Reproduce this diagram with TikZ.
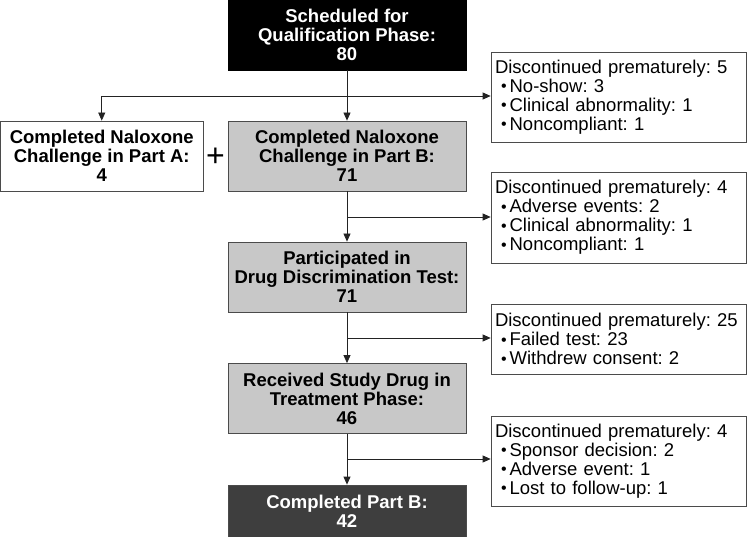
\documentclass[tikz,border=0pt]{standalone}
\usepackage{fontspec}
\setmainfont{Liberation Sans}
\usetikzlibrary{arrows.meta}
\definecolor{boxgray}{RGB}{200,200,200}
\definecolor{darkbox}{RGB}{62,62,62}
\definecolor{edgecol}{RGB}{75,75,75}
\definecolor{linecol}{RGB}{35,35,35}
\newcommand{\bul}{\hspace*{6pt}\raisebox{0.5pt}{\fontsize{16}{16}\selectfont•}\kern3pt}
\begin{document}
\frenchspacing
\begin{tikzpicture}[x=1pt,y=-1pt,
  mainbox/.style={draw=edgecol, line width=0.8pt, align=center,
    font=\fontsize{18.5}{19}\selectfont\bfseries, inner sep=0pt,
    minimum width=238pt, minimum height=70pt},
  graybox/.style={mainbox, fill=boxgray},
  sidebox/.style={draw=edgecol, line width=0.7pt, align=left, fill=white,
    font=\fontsize{18.5}{19}\selectfont, inner xsep=4pt, inner ysep=0pt,
    text width=247pt, minimum height=90pt},
  arr/.style={draw=linecol, line width=0.8pt, -{Triangle[length=8pt,width=7pt]}}]
\useasboundingbox (0,0) rectangle (747,537);

% main column
\node[mainbox, fill=black, draw=black, text=white] (top) at (347,35)
  {Scheduled for\\Qualification Phase:\\80};
\node[mainbox, fill=white, minimum width=202.5pt] (A) at (101.75,156)
  {Completed Naloxone\\Challenge in Part A:\\4};
\node[font=\fontsize{32}{32}\selectfont, inner sep=0pt] (plus) at (215.5,157) {+};
\node[graybox] (B) at (347,156)
  {Completed Naloxone\\Challenge in Part B:\\71};
\node[graybox] (C) at (347,277)
  {Participated in\\Drug Discrimination Test:\\71};
\node[graybox] (D) at (347,398.5)
  {Received Study Drug in\\Treatment Phase:\\46};
\node[mainbox, fill=darkbox, text=white, minimum height=52pt] (E) at (347,511)
  {Completed Part B:\\42};

% side boxes
\node[sidebox] (R1) at (618.5,97)
  {Discontinued prematurely: 5\\
   \bul No-show: 3\\
   \bul Clinical abnormality: 1\\
   \bul Noncompliant: 1};
\node[sidebox, minimum height=91pt] (R2) at (618.5,217.5)
  {Discontinued prematurely: 4\\
   \bul Adverse events: 2\\
   \bul Clinical abnormality: 1\\
   \bul Noncompliant: 1};
\node[sidebox, minimum height=70pt] (R3) at (618.5,339)
  {Discontinued prematurely: 25\\
   \bul Failed test: 23\\
   \bul Withdrew consent: 2};
\node[sidebox] (R4) at (618.5,461)
  {Discontinued prematurely: 4\\
   \bul Sponsor decision: 2\\
   \bul Adverse event: 1\\
   \bul Lost to follow-up: 1};

% junctions
\coordinate (j1) at (347,96);
\coordinate (j2) at (347,217);
\coordinate (j3) at (347,338);
\coordinate (j4) at (347,459);

% connectors
\draw[arr] (top) -- (B);
\draw[arr] (j1) -| (A.north);
\draw[arr] (j1) -- (R1.west |- j1);
\draw[arr] (B) -- (C);
\draw[arr] (j2) -- (R2.west |- j2);
\draw[arr] (C) -- (D);
\draw[arr] (j3) -- (R3.west |- j3);
\draw[arr] (D) -- (E);
\draw[arr] (j4) -- (R4.west |- j4);
\end{tikzpicture}
\end{document}
